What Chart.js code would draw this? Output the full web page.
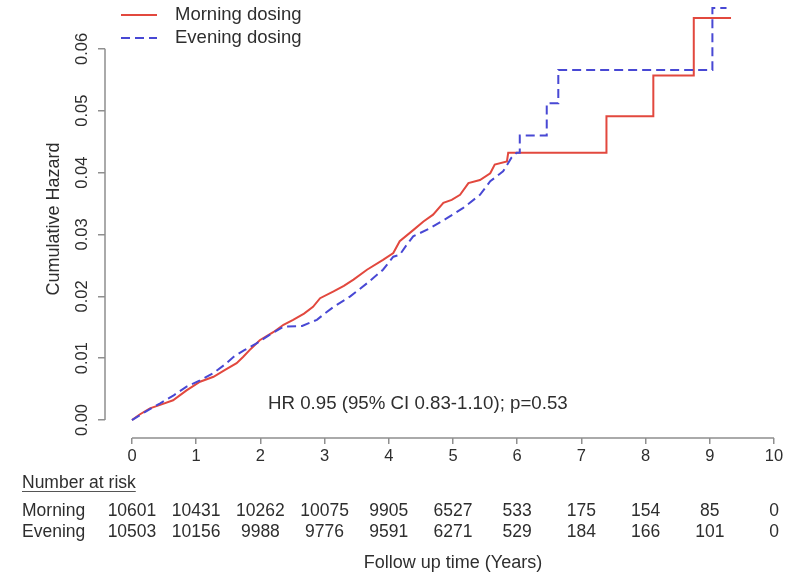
<!DOCTYPE html>
<html>
<head>
<meta charset="utf-8">
<script src="https://cdn.jsdelivr.net/npm/chart.js@4/dist/chart.umd.min.js"></script>
<style>
  html, body { margin: 0; padding: 0; background: #fff; }
  canvas { display: block; }
</style>
</head>
<body>
<canvas id="hazardChart" width="808" height="574"></canvas>
<script>
// cumulative hazard, morning vs evening dosing
// the late steps are given as corner pairs (same time, two hazards)
const morningTime = [0, 0.12, 0.28, 0.45, 0.64, 0.85, 1.06, 1.27, 1.45, 1.63, 1.73, 1.85, 1.99, 2.2, 2.36,
  2.51, 2.68, 2.82, 2.93, 3.14, 3.3, 3.45, 3.66, 3.91, 4.07, 4.17, 4.38, 4.54, 4.69, 4.85,
  4.98, 5.11, 5.24, 5.42, 5.58, 5.65, 5.84, 5.86, 7.39, 7.39, 8.12, 8.12, 8.75, 8.75, 9.33];
const morningHazard = [0, 0.0009, 0.0019, 0.0025, 0.0032, 0.0048, 0.0062, 0.0070, 0.0081, 0.0092, 0.0102, 0.0115, 0.0129, 0.0142, 0.0154,
  0.0162, 0.0172, 0.0183, 0.0197, 0.0208, 0.0217, 0.0227, 0.0243, 0.0259, 0.0270, 0.0289, 0.0307, 0.0321, 0.0332, 0.0351,
  0.0356, 0.0364, 0.0383, 0.0388, 0.0399, 0.0413, 0.0418, 0.0432, 0.0432, 0.0491, 0.0491, 0.0557, 0.0557, 0.0650, 0.0650];

const eveningTime = [0, 0.2, 0.44, 0.65, 0.85, 1.06, 1.27, 1.45, 1.58, 1.75, 1.94, 2.15, 2.36, 2.65, 2.88,
  3.0, 3.14, 3.4, 3.66, 3.91, 4.07, 4.17, 4.27, 4.38, 4.64, 4.9, 5.16, 5.42, 5.58, 5.78,
  5.91, 5.99, 6.04, 6.04, 6.46, 6.46, 6.64, 6.64, 9.04, 9.04, 9.26];
const eveningHazard = [0, 0.0013, 0.0027, 0.0040, 0.0054, 0.0064, 0.0076, 0.0090, 0.0102, 0.0113, 0.0124, 0.0138, 0.0151, 0.0152, 0.0162,
  0.0172, 0.0183, 0.0200, 0.0221, 0.0243, 0.0264, 0.0267, 0.0282, 0.0297, 0.0310, 0.0326, 0.0343, 0.0364, 0.0386, 0.0402,
  0.0424, 0.0432, 0.0432, 0.0460, 0.0460, 0.0512, 0.0512, 0.0566, 0.0566, 0.0666, 0.0666];

const xTicks = [0, 1, 2, 3, 4, 5, 6, 7, 8, 9, 10];
const yTicks = [0, 0.01, 0.02, 0.03, 0.04, 0.05, 0.06];

const riskLabels = ['Morning', 'Evening'];
const morningAtRisk = [10601, 10431, 10262, 10075, 9905, 6527, 533, 175, 154, 85, 0];
const eveningAtRisk = [10503, 10156, 9988, 9776, 9591, 6271, 529, 184, 166, 101, 0];

const seriesNames = ['Morning dosing', 'Evening dosing'];
const hrText = 'HR 0.95 (95% CI 0.83-1.10); p=0.53';

const FONT = '"Liberation Sans", Arial, Helvetica, sans-serif';
const TEXT = '#2e2e2e';
const AXIS = '#8f8f8f';
const RED = '#e2483e';
const BLUE = '#4848d4';
const DASH = [9, 5];

// R-style pieces: detached axis lines, rotated y labels, legend, HR note, risk table
const extras = {
  id: 'extras',
  afterDraw(chart) {
    const ctx = chart.ctx;
    const xs = chart.scales.x, ys = chart.scales.y;
    const area = chart.chartArea;
    ctx.save();

    ctx.strokeStyle = AXIS;
    ctx.lineWidth = 1.5;
    ctx.setLineDash([]);
    ctx.beginPath();
    ctx.moveTo(xs.getPixelForValue(xTicks[0]), area.bottom);
    ctx.lineTo(xs.getPixelForValue(xTicks[xTicks.length - 1]), area.bottom);
    ctx.moveTo(area.left, ys.getPixelForValue(yTicks[0]));
    ctx.lineTo(area.left, ys.getPixelForValue(yTicks[yTicks.length - 1]));
    ctx.stroke();

    ctx.fillStyle = TEXT;
    ctx.font = '16.5px ' + FONT;
    ctx.textAlign = 'center';
    ctx.textBaseline = 'alphabetic';
    yTicks.forEach(v => {
      ctx.save();
      ctx.translate(87, ys.getPixelForValue(v));
      ctx.rotate(-Math.PI / 2);
      ctx.fillText(v.toFixed(2), 0, 0);
      ctx.restore();
    });

    // legend
    ctx.lineWidth = 2;
    ctx.strokeStyle = RED;
    ctx.beginPath(); ctx.moveTo(121, 15); ctx.lineTo(157, 15); ctx.stroke();
    ctx.strokeStyle = BLUE;
    ctx.setLineDash(DASH);
    ctx.beginPath(); ctx.moveTo(121, 38); ctx.lineTo(157, 38); ctx.stroke();
    ctx.setLineDash([]);
    ctx.font = '18.5px ' + FONT;
    ctx.textAlign = 'left';
    ctx.textBaseline = 'middle';
    ctx.fillText(seriesNames[0], 175, 15);
    ctx.fillText(seriesNames[1], 175, 38);

    ctx.font = '18.7px ' + FONT;
    ctx.fillText(hrText, 268, 404);

    // number at risk
    ctx.font = '17.5px ' + FONT;
    ctx.fillText('Number at risk', 22, 483);
    const w = ctx.measureText('Number at risk').width;
    ctx.strokeStyle = '#555';
    ctx.lineWidth = 1;
    ctx.beginPath(); ctx.moveTo(22, 491.5); ctx.lineTo(22 + w, 491.5); ctx.stroke();
    ctx.fillText(riskLabels[0], 22, 511);
    ctx.fillText(riskLabels[1], 22, 532.5);
    ctx.textAlign = 'center';
    xTicks.forEach((t, i) => {
      const px = xs.getPixelForValue(t);
      ctx.fillText(String(morningAtRisk[i]), px, 511);
      ctx.fillText(String(eveningAtRisk[i]), px, 532.5);
    });

    ctx.restore();
  }
};

const data = {
  datasets: [{
    label: seriesNames[0],
    data: morningTime.map((t, i) => ({ x: t, y: morningHazard[i] })),
    borderColor: RED,
    borderWidth: 2,
    tension: 0,
    pointRadius: 0,
    order: 1
  }, {
    label: seriesNames[1],
    data: eveningTime.map((t, i) => ({ x: t, y: eveningHazard[i] })),
    borderColor: BLUE,
    borderWidth: 2,
    borderDash: DASH,
    tension: 0,
    pointRadius: 0,
    order: 0
  }]
};

const config = {
  type: 'line',
  data: data,
  options: {
    responsive: false,
    animation: false,
    layout: { padding: { left: 0, right: 7, top: 0, bottom: 0 } },
    plugins: {
      legend: { display: false },
      tooltip: { enabled: false }
    },
    scales: {
      x: {
        type: 'linear',
        min: -0.42,
        max: 10.42,
        afterBuildTicks: (scale) => { scale.ticks = xTicks.map(v => ({ value: v })); },
        afterFit: (scale) => { scale.height = 136; },
        border: { display: false },
        grid: { drawOnChartArea: false, drawTicks: true, tickLength: 6, color: AXIS, lineWidth: 1.5 },
        ticks: { autoSkip: false, maxRotation: 0, padding: 3, color: TEXT, font: { family: FONT, size: 16.5 } },
        title: {
          display: true,
          text: 'Follow up time (Years)',
          color: TEXT,
          font: { family: FONT, size: 18 },
          padding: { top: 0, bottom: 0 }
        }
      },
      y: {
        type: 'linear',
        min: -0.0029,
        max: 0.0679,
        afterBuildTicks: (scale) => { scale.ticks = yTicks.map(v => ({ value: v })); },
        afterFit: (scale) => { scale.width = 105; },
        border: { display: false },
        grid: { drawOnChartArea: false, drawTicks: true, tickLength: 7, color: AXIS, lineWidth: 1.5 },
        ticks: { display: false },
        title: {
          display: true,
          text: 'Cumulative Hazard',
          color: TEXT,
          font: { family: FONT, size: 18 },
          padding: { top: 43, bottom: 0 }
        }
      }
    }
  },
  plugins: [extras]
};

const hazardChart = new Chart(document.getElementById('hazardChart'), config);
</script>
</body>
</html>
